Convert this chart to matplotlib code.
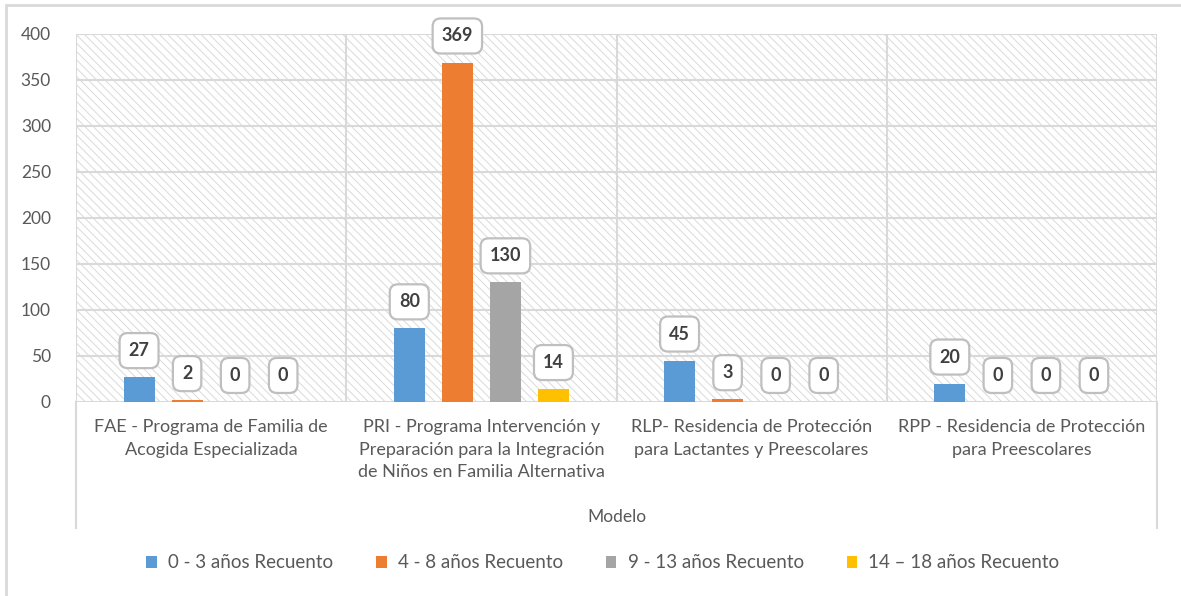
import matplotlib
matplotlib.use("Agg")
import matplotlib.pyplot as plt
import numpy as np
from matplotlib.patches import Rectangle, Patch
import matplotlib.transforms as mtrans

plt.rcParams["font.family"] = ["Lato", "DejaVu Sans"]
plt.rcParams["hatch.linewidth"] = 0.7

categories = [
    "FAE - Programa de Familia de\nAcogida Especializada",
    "PRI - Programa Intervención y\nPreparación para la Integración\nde Niños en Familia Alternativa",
    "RLP- Residencia de Protección\npara Lactantes y Preescolares",
    "RPP - Residencia de Protección\npara Preescolares",
]
series_names = ["0 - 3 años Recuento", "4 - 8 años Recuento",
                "9 - 13 años Recuento", "14 \u2013 18 años Recuento"]
age_0_3 = [27, 80, 45, 20]
age_4_8 = [2, 369, 3, 0]
age_9_13 = [0, 130, 0, 0]
age_14_18 = [0, 14, 0, 0]
series = [age_0_3, age_4_8, age_9_13, age_14_18]
colors = ["#5B9BD5", "#ED7D31", "#A5A5A5", "#FFC000"]
yticks = [0, 50, 100, 150, 200, 250, 300, 350, 400]

grid_c = "#d9d9d9"
text_c = "#595959"

fig = plt.figure(figsize=(11.81, 5.96), dpi=100)
ax = fig.add_axes([76 / 1181, 1 - 402 / 596, (1157 - 76) / 1181, (402 - 34) / 596])

# hatched plot background
ax.add_patch(Rectangle((0, 0), 1, 1, transform=ax.transAxes, facecolor="white",
                       edgecolor="#dadada", hatch="\\\\\\\\", linewidth=0, zorder=0))

x = np.arange(len(categories))
step = 48 / 270
width = 31 / 270
for i, (vals, col) in enumerate(zip(series, colors)):
    pos = x + (i - 1.5) * step
    ax.bar(pos, vals, width=width, color=col, zorder=3, label=series_names[i])
    for px, v in zip(pos, vals):
        ax.annotate(str(v), (px, v), xytext=(0, 13), textcoords="offset points",
                    ha="center", va="bottom", fontsize=13, fontweight="bold", color="#404040",
                    zorder=5,
                    bbox=dict(boxstyle="round,pad=0.5,rounding_size=0.45", fc="white",
                              ec="#bfbfbf", lw=1.6))

ax.set_xlim(-0.5, len(categories) - 0.5)
ax.set_ylim(0, 400)
ax.set_yticks(yticks)
ax.set_xticks([])
for yv in yticks:
    ax.axhline(yv, color=grid_c, lw=1.5, zorder=1)
for xv in np.arange(-0.5, len(categories), 1.0):
    ax.axvline(xv, color=grid_c, lw=1.5, zorder=1)
for s in ax.spines.values():
    s.set_visible(False)
ax.tick_params(axis="y", length=0, pad=18, labelsize=12.5, labelcolor=text_c)

# category labels
trans = mtrans.blended_transform_factory(ax.transData, ax.transAxes)
for xi, lab in zip(x, categories):
    ax.text(xi, -17 / 368, lab, transform=trans, ha="center", va="top",
            fontsize=13, color=text_c, linespacing=1.5)

# extended outer lines of the category area
for xa in (0, 1):
    ax.plot([xa, xa], [0, -(528 - 402) / 368], transform=ax.transAxes,
            color=grid_c, lw=1.5, clip_on=False)

fig.text(617 / 1181, 1 - 517 / 596, "Modelo", ha="center", va="center",
         fontsize=12.5, color=text_c)

handles = [Patch(facecolor=c, edgecolor="none") for c in colors]
fig.legend(handles, series_names, loc="center", bbox_to_anchor=(603 / 1181, 1 - 563 / 596),
           ncol=4, frameon=False, fontsize=13.5, labelcolor=text_c,
           handlelength=0.55, handleheight=0.55, handletextpad=0.6, columnspacing=2.3)

# outer chart frame (partially cropped in the reference)
fig.add_artist(Rectangle((6 / 1181, -0.05), 1.2, 1 - 5 / 596 + 0.05, transform=fig.transFigure,
                         fill=False, edgecolor=grid_c, lw=2))

fig.savefig("out.png", dpi=100, facecolor="white")
